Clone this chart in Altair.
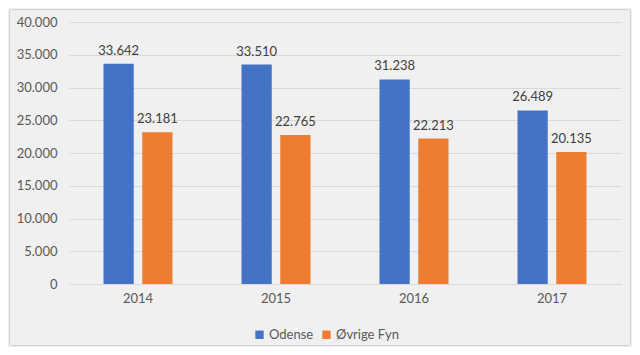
import altair as alt
import pandas as pd

years = ["2014", "2015", "2016", "2017"]
series = ["Odense", "Øvrige Fyn"]
odense = [33642, 33510, 31238, 26489]
ovrige = [23181, 22765, 22213, 20135]
colors = ["#4472C4", "#ED7D31"]

rows = []
for i, y in enumerate(years):
    rows.append({"year": y, "series": series[0], "value": odense[i]})
    rows.append({"year": y, "series": series[1], "value": ovrige[i]})
df = pd.DataFrame(rows)

font = "Lato"
x = alt.X("year:N", title=None,
          scale=alt.Scale(paddingInner=0.5, paddingOuter=0.25),
          axis=alt.Axis(labelAngle=0, ticks=False, domainColor="#D9D9D9",
                        labelColor="#595959", labelFontSize=13, labelFont=font,
                        labelPadding=8, grid=False))
xo = alt.XOffset("series:N", sort=series, scale=alt.Scale(paddingInner=0.22, paddingOuter=0))
y = alt.Y("value:Q", title=None,
          scale=alt.Scale(domain=[0, 40000]),
          axis=alt.Axis(values=list(range(0, 40001, 5000)), format=",.0f", domain=False,
                        ticks=False, labelColor="#595959", labelFontSize=13,
                        labelFont=font, labelPadding=12, gridColor="#D9D9D9"))
color = alt.Color("series:N", sort=series,
                  scale=alt.Scale(domain=series, range=colors),
                  legend=alt.Legend(title=None, orient="none", direction="horizontal",
                                    legendX=184, legendY=306, symbolType="square",
                                    symbolSize=70, symbolStrokeWidth=0,
                                    labelFont=font, labelFontSize=13,
                                    labelColor="#595959", columnPadding=6,
                                    labelOffset=3))

frame = alt.Chart(pd.DataFrame({"a": [0]})).mark_rect(
    fill=None, stroke="#D0D0D0", strokeWidth=1, cornerRadius=2
).encode(x=alt.value(-59.5), x2=alt.value(561.5), y=alt.value(-12.5), y2=alt.value(323.5))

base = alt.Chart(df).encode(x=x, xOffset=xo, y=y)
bars = base.mark_bar().encode(color=color)
labels = base.mark_text(baseline="bottom", dy=-6, font=font, fontSize=13,
                        color="#404040").encode(text=alt.Text("value:Q", format=",.0f"))

chart = alt.layer(frame, bars, labels).properties(
    width=552, height=262,
    autosize=alt.AutoSizeParams(type="none"),
    padding={"left": 61, "top": 14, "right": 11, "bottom": 63},
    background="#F0F0F0",
).configure(
    locale={"number": {"decimal": ",", "thousands": ".", "grouping": [3],
                       "currency": ["", " kr."]}}
).configure_view(stroke=None)

chart.save("out.html", embed_options={"renderer": "svg", "actions": False})
